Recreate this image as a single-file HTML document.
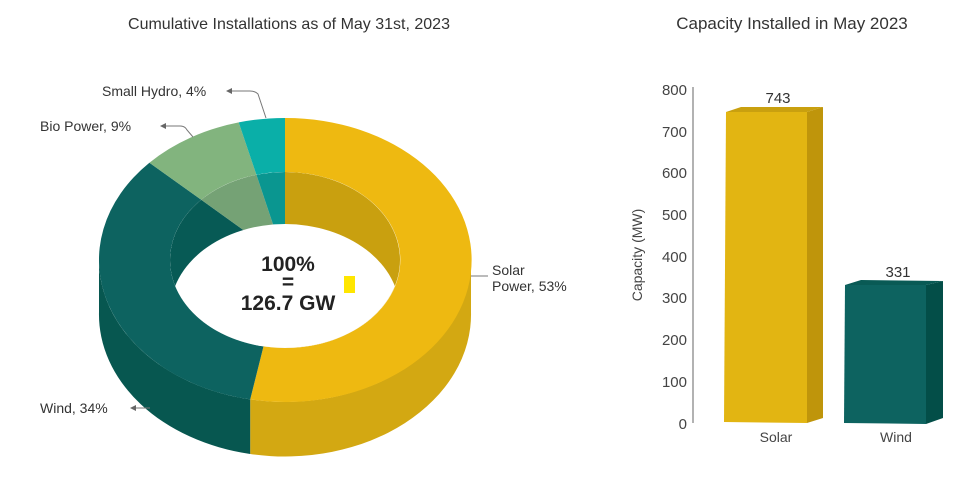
<!DOCTYPE html>
<html><head><meta charset="utf-8"><style>
body{margin:0;background:#fff}
svg{display:block;font-family:"Liberation Sans",sans-serif}
</style></head><body>
<svg width="964" height="487" viewBox="0 0 964 487">
<defs>
<clipPath id="hole"><ellipse cx="285" cy="260" rx="115" ry="88"/></clipPath>
<marker id="ar" markerWidth="6" markerHeight="6" refX="5" refY="3" orient="auto"><path d="M0,0 L6,3 L0,6z" fill="#666"/></marker>
</defs>
<text x="289" y="29" text-anchor="middle" font-size="16" fill="#333">Cumulative Installations as of May 31st, 2023</text>
<text x="792" y="29" text-anchor="middle" font-size="17" fill="#333">Capacity Installed in May 2023</text>

<!-- side walls -->
<path d="M471,260 A186,142 0 0 1 250.2,399.4 L250.2,454 A186,142 0 0 0 471,312 Z" fill="#d3a812"/>
<path d="M250.2,399.4 A186,142 0 0 1 99,260 L99,312 A186,142 0 0 0 250.2,454 Z" fill="#075750"/>

<!-- top face -->
<path d="M285,118 A186,142 0 1 1 250.2,399.4 L263.5,346.4 A115,88 0 1 0 285,172 Z" fill="#eeb911"/>
<path d="M250.2,399.4 A186,142 0 0 1 149.4,162.7 L201.2,199.7 A115,88 0 0 0 263.5,346.4 Z" fill="#0d6360"/>
<path d="M149.4,162.7 A186,142 0 0 1 238.7,122.4 L256.4,174.7 A115,88 0 0 0 201.2,199.7 Z" fill="#82b47e"/>
<path d="M238.7,122.4 A186,142 0 0 1 285,118 L285,172 A115,88 0 0 0 256.4,174.7 Z" fill="#0aafa8"/>

<!-- hole inner walls -->
<g clip-path="url(#hole)">
<path d="M285,260 L285,172 A115,88 0 1 1 263.5,346.4 Z" fill="#c9a00f"/>
<path d="M285,260 L263.5,346.4 A115,88 0 0 1 201.2,199.7 Z" fill="#075a55"/>
<path d="M285,260 L201.2,199.7 A115,88 0 0 1 256.4,174.7 Z" fill="#75a275"/>
<path d="M285,260 L256.4,174.7 A115,88 0 0 1 285,172 Z" fill="#0a9690"/>
<ellipse cx="285" cy="312" rx="115" ry="88" fill="#fff"/>
</g>

<text x="288" y="271" text-anchor="middle" font-size="21" font-weight="bold" fill="#222">100%</text>
<text x="288" y="289" text-anchor="middle" font-size="21" font-weight="bold" fill="#222">=</text>
<text x="288" y="310" text-anchor="middle" font-size="21" font-weight="bold" fill="#222">126.7 GW</text>
<rect x="344" y="276" width="11" height="17" fill="#ffe600"/>

<!-- labels -->
<g font-size="14" fill="#333">
<text x="102" y="96">Small Hydro, 4%</text>
<text x="40" y="131">Bio Power, 9%</text>
<text x="492" y="275">Solar</text>
<text x="492" y="291">Power, 53%</text>
<text x="40" y="413">Wind, 34%</text>
</g>
<g stroke="#777" fill="none" stroke-width="1">
<path d="M266,118 L258,94 Q255,91 250,91 L227,91" marker-end="url(#ar)"/>
<path d="M193,137 L187,130 Q185,126 180,126 L161,126" marker-end="url(#ar)"/>
<path d="M471,276 L488,276"/>
<path d="M150,408 L131,408" marker-end="url(#ar)"/>
</g>

<!-- bar chart -->
<line x1="693" y1="87" x2="693" y2="423" stroke="#666" stroke-width="1"/>
<g font-size="15" fill="#444" text-anchor="end">
<text x="687" y="95">800</text>
<text x="687" y="137">700</text>
<text x="687" y="178">600</text>
<text x="687" y="220">500</text>
<text x="687" y="262">400</text>
<text x="687" y="303">300</text>
<text x="687" y="345">200</text>
<text x="687" y="387">100</text>
<text x="687" y="429">0</text>
</g>
<text transform="translate(642,255) rotate(-90)" text-anchor="middle" font-size="14" fill="#444">Capacity (MW)</text>

<polygon points="807,112 823,107 823,418 807,423" fill="#bf950b"/>
<polygon points="726,112 741,107 823,107 807,112" fill="#c9a00f"/>
<polygon points="726,112 807,112 807,423 724,422" fill="#e2b512"/>
<text x="778" y="103" text-anchor="middle" font-size="15" fill="#333">743</text>

<polygon points="926,285 943,281 943,418 926,424" fill="#034e48"/>
<polygon points="845,285 861,280 943,281 926,285" fill="#095a55"/>
<polygon points="845,285 926,285 926,424 844,423" fill="#0d6360"/>
<text x="898" y="277" text-anchor="middle" font-size="15" fill="#333">331</text>

<text x="776" y="442" text-anchor="middle" font-size="14" fill="#444">Solar</text>
<text x="896" y="442" text-anchor="middle" font-size="14" fill="#444">Wind</text>
</svg>
</body></html>
